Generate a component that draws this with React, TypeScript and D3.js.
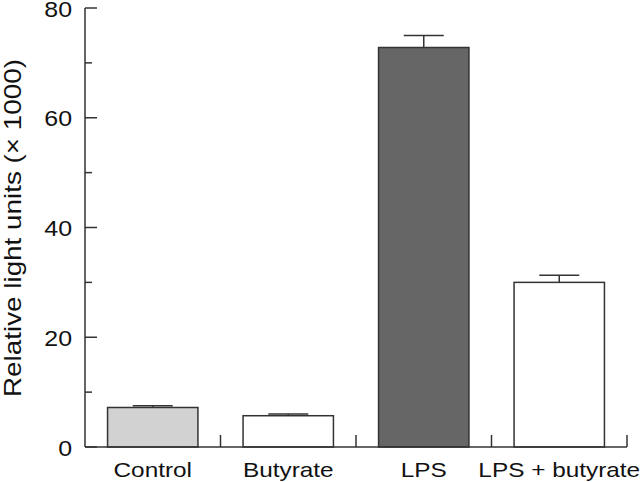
import React from "react";
import * as d3 from "d3";

const categories = ["Control", "Butyrate", "LPS", "LPS + butyrate"];
const values = [7.2, 5.7, 72.8, 30.0];
const errors = [0.3, 0.3, 2.2, 1.3];
const fills = ["#d2d2d2", "#ffffff", "#666666", "#ffffff"];
const majorTicks = [0, 20, 40, 60, 80];
const minorTicks = [10, 30, 50, 70];

const W = 640, H = 482;
const left = 85, right = 627, top = 8, bottom = 447;
const font = "'Liberation Sans', Arial, Helvetica, sans-serif";
const sx = 1.16;

export default function App() {
  const y = d3.scaleLinear().domain([0, 80]).range([bottom, top]);
  const x = d3.scaleBand<string>().domain(categories).range([left, right]).paddingInner(0.333).paddingOuter(0.1665);
  const band = d3.scaleBand<string>().domain(categories).range([left, right]);
  const bw = x.bandwidth();
  const capHalf = 20;
  const stroke = "#333";
  return (
    <svg width={W} height={H} style={{ position: "absolute", left: 0, top: 0 }}>
      <rect width={W} height={H} fill="#fff" />
      {categories.map((c, i) => {
        const x0 = x(c)!;
        const cx = x0 + bw / 2;
        return (
          <g key={c}>
            <line x1={cx} x2={cx} y1={y(values[i])} y2={y(values[i] + errors[i])} stroke={stroke} strokeWidth={1.5} />
            <line x1={cx - capHalf} x2={cx + capHalf} y1={y(values[i] + errors[i])} y2={y(values[i] + errors[i])} stroke={stroke} strokeWidth={1.5} />
            <rect x={x0} y={y(values[i])} width={bw} height={bottom - y(values[i])} fill={fills[i]} stroke={stroke} strokeWidth={1.5} />
            <text transform={`translate(${cx},477) scale(${sx},1)`} textAnchor="middle" fontFamily={font} fontSize={21} fill="#111">{c}</text>
          </g>
        );
      })}
      <line x1={left} x2={left} y1={top} y2={bottom} stroke={stroke} strokeWidth={1.5} />
      <line x1={left} x2={right} y1={bottom} y2={bottom} stroke={stroke} strokeWidth={1.5} />
      {categories.map((c) => {
        const xe = band(c)! + band.bandwidth();
        return <line key={"t" + c} x1={xe} x2={xe} y1={bottom} y2={bottom - 12} stroke={stroke} strokeWidth={1.5} />;
      })}
      {majorTicks.map((t) => (
        <g key={"m" + t}>
          <line x1={left} x2={left + 12} y1={y(t)} y2={y(t)} stroke={stroke} strokeWidth={1.5} />
          <text transform={`translate(72,${y(t) + 8.5}) scale(${sx},1)`} textAnchor="end" fontFamily={font} fontSize={21.5} fill="#111">{t}</text>
        </g>
      ))}
      {minorTicks.map((t) => (
        <line key={"n" + t} x1={left} x2={left + 7} y1={y(t)} y2={y(t)} stroke={stroke} strokeWidth={1.5} />
      ))}
      <text transform={`translate(21,228) rotate(-90) scale(${sx},1)`} textAnchor="middle" fontFamily={font} fontSize={24} fill="#111">
        Relative light units (× 1000)
      </text>
    </svg>
  );
}
